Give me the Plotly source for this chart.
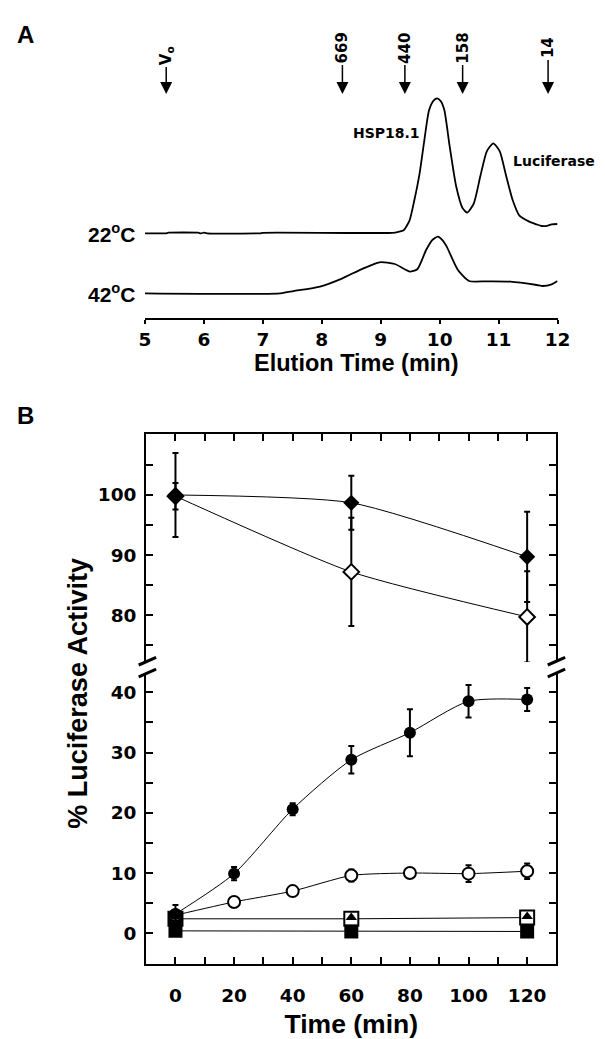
import plotly.graph_objects as go

W, H = 605, 1039

# %% panel A: gel filtration profiles (absorbance above baseline, arbitrary units)
elution_22_t = [5.0, 5.35, 5.4, 5.9, 5.95, 6.0, 6.05, 6.95, 7.0, 9.2, 9.3, 9.39, 9.49,
                9.57, 9.66, 9.74, 9.82, 9.9, 9.96, 10.02, 10.08, 10.17, 10.28, 10.39,
                10.47, 10.58, 10.69, 10.8, 10.91, 11.02, 11.13, 11.24, 11.35, 11.52,
                11.64, 11.73, 11.82, 11.9, 12.0]
elution_22_abs = [0, 0, 0.6, 0.6, 0, 0.6, 0, 0, 0.5, 0.5, 1.5, 3, 13,
                  33, 60, 93, 123, 133, 135, 132, 123, 87, 47, 25,
                  20.7, 30, 57, 82, 90, 82, 57, 33, 18, 11.7,
                  9, 7.3, 7.5, 9, 9.3]
elution_42_t = [5.0, 7.3, 7.52, 7.97, 8.35, 8.67, 8.98, 9.24, 9.49, 9.62, 9.77, 9.87,
                9.97, 10.05, 10.12, 10.31, 10.5, 10.8, 11.2, 11.65, 11.75, 11.9, 12.0]
elution_42_abs = [0, 0, 2.2, 6.7, 15, 24, 31, 29.3, 21.7, 24, 43.3, 53,
                  56.7, 53, 46.7, 23.3, 12.3, 12, 11.7, 8.3, 7.3, 9, 12.3]
size_labels = ["V<sub>o</sub>", "669", "440", "158", "14"]
size_times = [5.36, 8.35, 9.41, 10.39, 11.84]

# %% panel B: luciferase reactivation
time_min = [0, 20, 40, 60, 80, 100, 120]
circle_filled = [3.2, 9.9, 20.6, 28.8, 33.3, 38.5, 38.8]
circle_filled_err = [1.5, 1.1, 1.0, 2.3, 3.9, 2.7, 1.9]
circle_open = [3.0, 5.2, 7.0, 9.6, 10.0, 9.9, 10.3]
circle_open_err = [0.8, 0.4, 0.4, 1.0, 0.6, 1.4, 1.3]
time_sparse = [0, 60, 120]
diamond_filled = [100, 98.7, 89.7]
diamond_filled_err = [7.0, 4.5, 7.5]
diamond_open = [99.8, 87.2, 79.7]
diamond_open_err = [2.2, 9.0, 7.6]
triangle_filled = [2.6, 2.6, 2.8]
square_open = [2.4, 2.4, 2.6]
square_filled = [0.4, 0.3, 0.3]


def fx(px):
    return px / W


def fy(py):
    return 1 - py / H


offset_22 = 60
BLACK = "black"
tick_font = dict(family="DejaVu Sans", size=18.5, color=BLACK, weight="bold")
title_font = dict(family="Liberation Sans", size=24, color=BLACK, weight="bold")

fig = go.Figure()

# panel A traces
fig.add_trace(go.Scatter(
    x=elution_22_t, y=[v + offset_22 for v in elution_22_abs], mode="lines",
    line=dict(color=BLACK, width=1.8, shape="spline", smoothing=0.6),
    xaxis="x", yaxis="y"))
fig.add_trace(go.Scatter(
    x=elution_42_t, y=elution_42_abs, mode="lines",
    line=dict(color=BLACK, width=1.8, shape="spline", smoothing=0.6),
    xaxis="x", yaxis="y"))


# panel B connecting curves
def curve(x, y, yaxis, shape="spline", smoothing=0.6):
    fig.add_trace(go.Scatter(x=x, y=y, mode="lines",
                             line=dict(color=BLACK, width=1, shape=shape,
                                       smoothing=smoothing),
                             xaxis="x2" if yaxis == "y3" else "x3", yaxis=yaxis))


curve(time_sparse, diamond_filled, "y2")
curve(time_sparse, diamond_open, "y2")
curve(time_min, circle_filled, "y3", smoothing=0.7)
curve(time_min, circle_open, "y3")
curve(time_sparse, square_open, "y3", "linear")
curve(time_sparse, square_filled, "y3", "linear")


def points(x, y, yaxis, symbol, size, fill, err=None):
    fig.add_trace(go.Scatter(
        x=x, y=y, mode="markers",
        marker=dict(symbol=symbol, size=size, color=fill,
                    line=dict(color=BLACK, width=0 if fill == BLACK else 2)),
        error_y=None if err is None else dict(type="data", array=err, color=BLACK,
                                              thickness=2, width=3),
        xaxis="x2" if yaxis == "y3" else "x3", yaxis=yaxis))


# at t=0 the overprinted symbols merge into one black block in the original
points(time_sparse, square_open, "y3", "square", 14, ["black", "white", "white"])
points(time_sparse, square_filled, "y3", "square", 14, BLACK)
points(time_sparse, triangle_filled, "y3", "triangle-up", 10, BLACK)
points(time_min, circle_open, "y3", "circle", 12, "white", circle_open_err)
points(time_min, circle_filled, "y3", "circle", 12, BLACK, circle_filled_err)
points(time_sparse, diamond_open, "y2", "diamond", 12, "white", diamond_open_err)
points(time_sparse, diamond_filled, "y2", "diamond", 12.5, BLACK, diamond_filled_err)

axis_common = dict(showline=True, linecolor=BLACK, linewidth=2, showgrid=False,
                   zeroline=False, tickcolor=BLACK, tickwidth=2, tickfont=tick_font)
b_x_dom = [fx(144.7), fx(568.3)]
minor_in = dict(ticks="inside", ticklen=7, tickwidth=2, tickcolor=BLACK)

fig.update_layout(
    width=W, height=H, margin=dict(l=0, r=0, t=0, b=0),
    paper_bgcolor="white", plot_bgcolor="white", showlegend=False,
    xaxis=dict(axis_common, domain=[fx(143.5), fx(569.4)], range=[5, 12], anchor="y",
               ticks="outside", ticklen=4, dtick=1, ticklabelstandoff=0),
    yaxis=dict(domain=[fy(318), fy(80)], range=[-24.7, 213.3], visible=False,
               anchor="x"),
    xaxis2=dict(axis_common, domain=b_x_dom, range=[-10, 130], anchor="y3",
                ticks="inside", ticklen=7, tickvals=list(range(0, 121, 20)),
                minor=dict(minor_in, tickvals=list(range(10, 120, 20))),
                ticklabelstandoff=14,
                title=dict(text="Time (min)", font=dict(title_font, size=26.5),
                           standoff=9)),
    xaxis3=dict(axis_common, domain=b_x_dom, range=[-10, 130], anchor="y2", side="top",
                ticks="inside", ticklen=7, tickvals=list(range(0, 121, 10)),
                showticklabels=False),
    yaxis2=dict(axis_common, domain=[fy(662), fy(434.3)], range=[72.2, 110.1],
                anchor="x3", mirror="ticks", ticks="inside", ticklen=7,
                tickvals=[80, 90, 100],
                minor=dict(minor_in, tickvals=[75, 85, 95, 105]),
                ticklabelstandoff=4),
    yaxis3=dict(axis_common, domain=[fy(964), fy(673)], range=[-5.1, 43.2],
                anchor="x2", mirror="ticks", ticks="inside", ticklen=7,
                tickvals=[0, 10, 20, 30, 40],
                minor=dict(minor_in, tickvals=[5, 15, 25, 35]),
                ticklabelstandoff=4),
)

# axis break marks
for xc in (146, 568.3):
    for yc in (661.2, 673):
        fig.add_shape(type="line", xref="paper", yref="paper",
                      x0=fx(xc - 9), y0=fy(yc + 3.8), x1=fx(xc + 9), y1=fy(yc - 3.8),
                      line=dict(color=BLACK, width=3))

# size standards: rotated label with an arrow down to the elution time
small_font = dict(family="DejaVu Sans", size=14, color=BLACK, weight="bold")
for t, lab in zip(size_times, size_labels):
    fig.add_annotation(x=t, xref="x", y=fy(94), yref="paper", text=lab,
                       showarrow=True, ax=0, ay=-38 if lab.startswith("V") else -46,
                       arrowhead=2, arrowsize=1.6, arrowwidth=1.5, arrowcolor=BLACK,
                       textangle=-90, font=dict(small_font, size=15))

label_font = dict(family="Liberation Sans", size=21, color=BLACK, weight="bold")
fig.add_annotation(x=fx(136), xref="paper", y=offset_22, yref="y",
                   text="22<sup>o</sup>C", showarrow=False, xanchor="right",
                   yanchor="middle", font=label_font)
fig.add_annotation(x=fx(136), xref="paper", y=0, yref="y",
                   text="42<sup>o</sup>C", showarrow=False, xanchor="right",
                   yanchor="middle", font=label_font)
fig.add_annotation(x=fx(430), xref="paper", y=fy(133), yref="paper", text="HSP18.1",
                   showarrow=False, xanchor="right", yanchor="middle", font=small_font)
fig.add_annotation(x=fx(521), xref="paper", y=fy(161), yref="paper", text="Luciferase",
                   showarrow=False, xanchor="left", yanchor="middle", font=small_font)
fig.add_annotation(x=fx(362), xref="paper", y=fy(363), yref="paper",
                   text="Elution Time (min)", showarrow=False, xanchor="center",
                   yanchor="middle", font=dict(title_font, size=23.5))
fig.add_annotation(x=fx(74), xref="paper", y=fy(693), yref="paper",
                   text="% Luciferase Activity", textangle=-90, showarrow=False,
                   xanchor="center", yanchor="middle",
                   font=dict(title_font, size=27))
fig.add_annotation(x=fx(9), xref="paper", y=fy(19), yref="paper", text="A",
                   showarrow=False, xanchor="left", yanchor="top",
                   font=dict(title_font, size=24))
fig.add_annotation(x=fx(9), xref="paper", y=fy(400), yref="paper", text="B",
                   showarrow=False, xanchor="left", yanchor="top",
                   font=dict(title_font, size=24))

# the page body has a default 8 px margin; remove it so the figure sits at the origin
fig.write_html("out.html", config={"displayModeBar": False},
               post_script="document.body.style.margin='0';")
